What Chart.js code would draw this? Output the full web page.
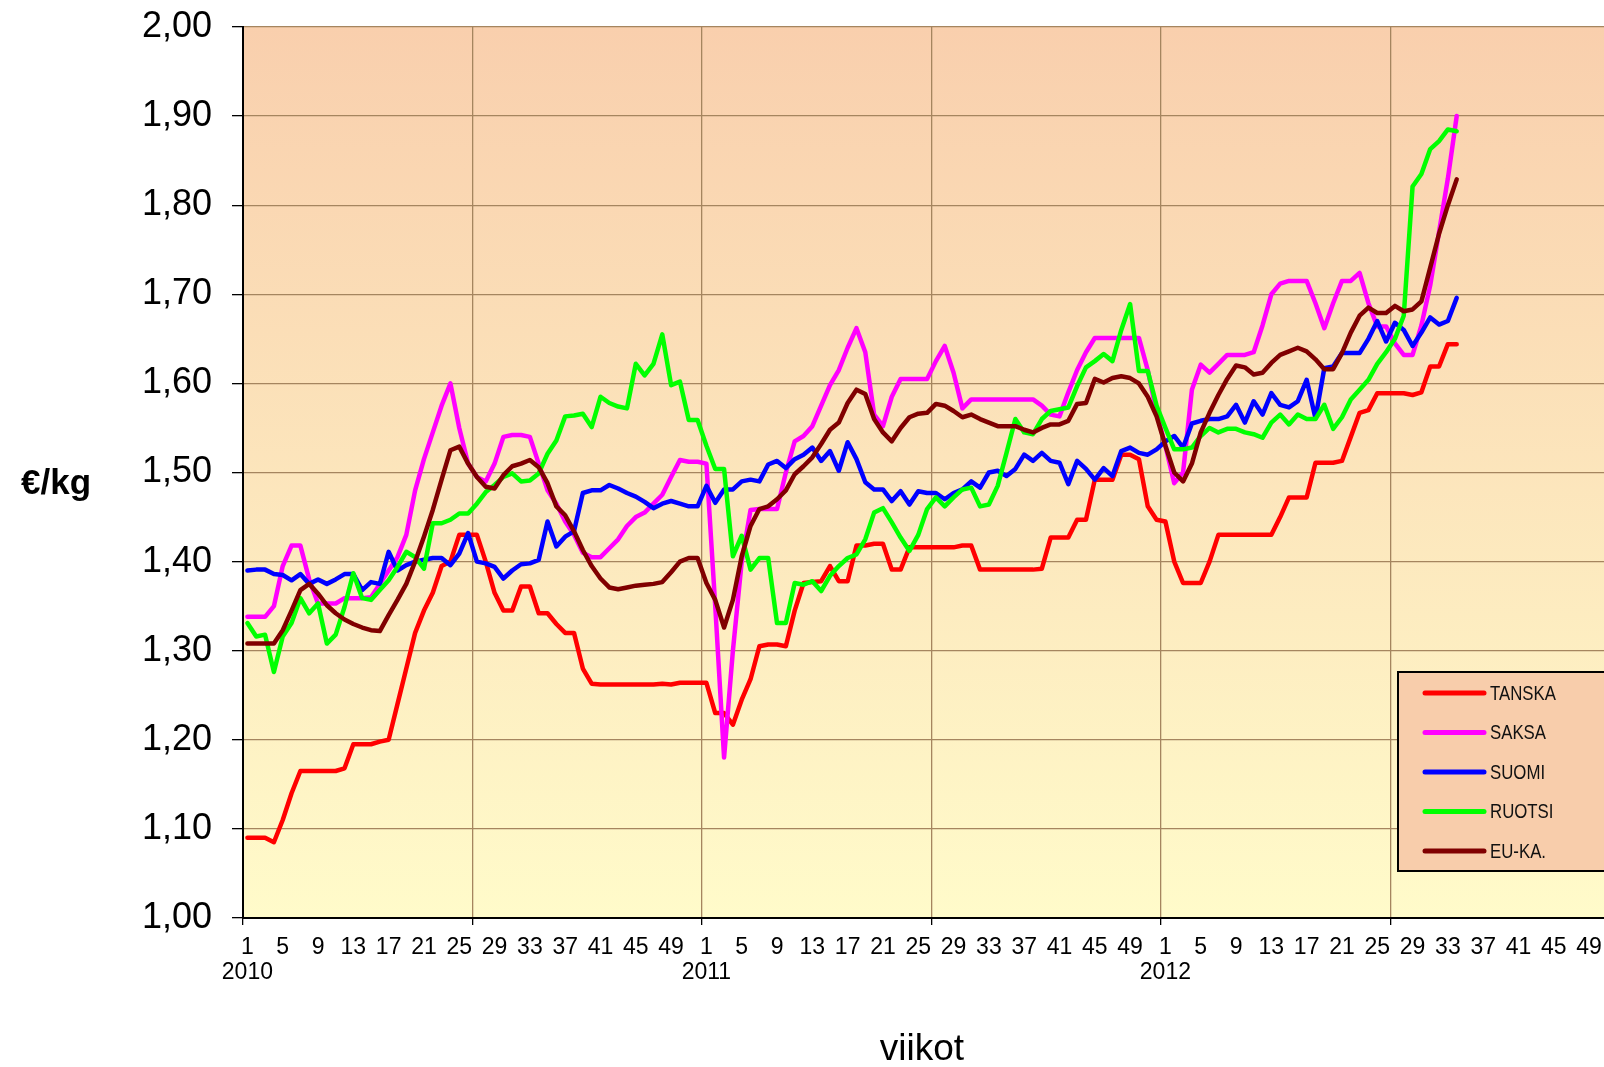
<!DOCTYPE html>
<html>
<head>
<meta charset="utf-8">
<script src="https://cdn.jsdelivr.net/npm/chart.js@4.4.0/dist/chart.umd.min.js"></script>
<style>
  html, body { margin: 0; padding: 0; background: #fff; overflow: hidden; width: 1604px; height: 1067px; }
  canvas { display: block; }
</style>
</head>
<body>
<canvas id="chart" width="1640" height="1067" style="width:1640px;height:1067px"></canvas>
<script>
// weekly prices €/kg, 2010 w1 .. 2012 w34
const years = ["2010", "2011", "2012"];
const weeksPerYear = 52;
const labelStep = 4;

const tanska2010 = [1.09,1.09,1.09,1.085,1.11,1.14,1.165,1.165,1.165,1.165,1.165,1.168,1.195,1.195,1.195,1.198,1.20,1.24,1.28,1.32,1.345,1.365,1.395,1.40,1.43,1.43,1.43,1.40,1.365,1.345,1.345,1.372,1.372,1.342,1.342,1.33,1.32,1.32,1.28,1.263,1.262,1.262,1.262,1.262,1.262,1.262,1.262,1.263,1.262,1.264,1.264,1.264];
const tanska2011 = [1.264,1.23,1.23,1.217,1.245,1.268,1.305,1.307,1.307,1.305,1.345,1.376,1.377,1.378,1.395,1.378,1.378,1.418,1.418,1.42,1.42,1.391,1.391,1.416,1.416,1.416,1.416,1.416,1.416,1.418,1.418,1.391,1.391,1.391,1.391,1.391,1.391,1.391,1.392,1.427,1.427,1.427,1.447,1.447,1.492,1.492,1.492,1.52,1.52,1.515,1.462,1.447];
const tanska2012 = [1.445,1.40,1.376,1.376,1.376,1.40,1.43,1.43,1.43,1.43,1.43,1.43,1.43,1.45,1.472,1.472,1.472,1.511,1.511,1.511,1.513,1.54,1.567,1.57,1.589,1.589,1.589,1.589,1.587,1.59,1.619,1.619,1.644,1.644];

const saksa2010 = [1.338,1.338,1.338,1.35,1.395,1.418,1.418,1.38,1.353,1.353,1.353,1.359,1.359,1.359,1.36,1.375,1.39,1.405,1.43,1.48,1.515,1.545,1.575,1.60,1.55,1.51,1.495,1.49,1.51,1.54,1.542,1.542,1.54,1.51,1.48,1.465,1.445,1.43,1.41,1.405,1.405,1.415,1.425,1.44,1.45,1.455,1.465,1.475,1.495,1.514,1.512,1.512];
const saksa2011 = [1.51,1.35,1.18,1.30,1.40,1.458,1.459,1.459,1.459,1.50,1.535,1.541,1.552,1.575,1.598,1.615,1.64,1.662,1.635,1.565,1.552,1.585,1.605,1.605,1.605,1.605,1.625,1.642,1.612,1.572,1.582,1.582,1.582,1.582,1.582,1.582,1.582,1.582,1.575,1.565,1.563,1.59,1.615,1.635,1.651,1.651,1.651,1.651,1.651,1.651,1.615,1.567];
const saksa2012 = [1.53,1.488,1.50,1.593,1.621,1.612,1.622,1.632,1.632,1.632,1.635,1.665,1.70,1.712,1.715,1.715,1.715,1.69,1.662,1.69,1.715,1.715,1.724,1.69,1.664,1.664,1.645,1.632,1.632,1.665,1.71,1.77,1.83,1.90];

const suomi2010 = [1.39,1.391,1.391,1.386,1.385,1.379,1.386,1.375,1.38,1.375,1.38,1.386,1.386,1.368,1.377,1.375,1.411,1.39,1.396,1.40,1.402,1.404,1.404,1.396,1.409,1.432,1.40,1.398,1.394,1.381,1.39,1.397,1.398,1.402,1.445,1.417,1.428,1.434,1.477,1.48,1.48,1.486,1.482,1.477,1.473,1.467,1.46,1.465,1.468,1.465,1.462,1.462];
const suomi2011 = [1.485,1.466,1.481,1.481,1.49,1.492,1.49,1.509,1.513,1.505,1.515,1.52,1.528,1.513,1.524,1.502,1.534,1.515,1.489,1.481,1.481,1.468,1.479,1.464,1.479,1.477,1.477,1.47,1.477,1.481,1.49,1.483,1.50,1.502,1.496,1.504,1.52,1.513,1.522,1.513,1.511,1.487,1.513,1.504,1.492,1.505,1.496,1.524,1.528,1.522,1.52,1.526];
const suomi2012 = [1.535,1.541,1.528,1.555,1.558,1.56,1.56,1.563,1.576,1.556,1.58,1.565,1.589,1.576,1.573,1.58,1.604,1.561,1.617,1.619,1.634,1.634,1.634,1.65,1.67,1.647,1.668,1.66,1.642,1.657,1.674,1.666,1.67,1.696];

const ruotsi2010 = [1.331,1.316,1.318,1.276,1.316,1.331,1.359,1.342,1.353,1.308,1.318,1.349,1.387,1.359,1.357,1.368,1.379,1.394,1.411,1.405,1.392,1.443,1.443,1.447,1.454,1.454,1.465,1.478,1.486,1.495,1.499,1.49,1.491,1.499,1.521,1.536,1.563,1.564,1.566,1.551,1.585,1.578,1.574,1.572,1.622,1.609,1.622,1.655,1.598,1.602,1.559,1.559];
const ruotsi2011 = [1.53,1.504,1.504,1.406,1.429,1.391,1.404,1.404,1.331,1.331,1.376,1.374,1.378,1.367,1.384,1.395,1.404,1.408,1.425,1.455,1.46,1.444,1.427,1.412,1.43,1.459,1.472,1.462,1.472,1.481,1.483,1.462,1.464,1.485,1.522,1.56,1.545,1.543,1.56,1.569,1.571,1.573,1.597,1.618,1.625,1.633,1.625,1.66,1.689,1.614,1.614,1.575];
const ruotsi2012 = [1.55,1.526,1.526,1.528,1.541,1.55,1.545,1.549,1.549,1.545,1.543,1.539,1.556,1.565,1.554,1.565,1.56,1.56,1.576,1.549,1.562,1.582,1.593,1.604,1.622,1.635,1.65,1.676,1.821,1.835,1.863,1.872,1.885,1.883];

const euka2010 = [1.308,1.308,1.308,1.308,1.323,1.345,1.368,1.375,1.364,1.351,1.342,1.335,1.33,1.326,1.323,1.322,1.34,1.357,1.375,1.40,1.428,1.458,1.492,1.525,1.529,1.51,1.495,1.484,1.482,1.497,1.507,1.51,1.514,1.506,1.488,1.462,1.452,1.434,1.413,1.395,1.381,1.371,1.369,1.371,1.373,1.374,1.375,1.377,1.388,1.40,1.404,1.404];
const euka2011 = [1.376,1.357,1.326,1.357,1.406,1.44,1.459,1.462,1.47,1.48,1.498,1.507,1.517,1.532,1.548,1.556,1.578,1.593,1.588,1.56,1.545,1.535,1.55,1.562,1.566,1.567,1.577,1.575,1.569,1.562,1.565,1.56,1.556,1.552,1.552,1.552,1.548,1.545,1.55,1.554,1.554,1.558,1.577,1.578,1.605,1.601,1.606,1.608,1.606,1.60,1.585,1.563];
const euka2012 = [1.53,1.50,1.49,1.51,1.545,1.567,1.587,1.605,1.62,1.618,1.61,1.612,1.623,1.632,1.636,1.64,1.636,1.627,1.616,1.616,1.634,1.657,1.676,1.685,1.679,1.679,1.687,1.681,1.683,1.692,1.73,1.768,1.80,1.829];

const seriesNames = ["TANSKA", "SAKSA", "SUOMI", "RUOTSI", "EU-KA."];

// categories: every week of the three years (axis runs to 2012 w52)
const categories = [];
years.forEach(y => { for (let w = 1; w <= weeksPerYear; w++) categories.push(w + "/" + y); });

const REG = "'Liberation Sans', Arial, sans-serif";
const GRID = "#a5855f";

// peach -> light yellow plot background
const plotBg = {
  id: "plotBg",
  beforeDraw(chart) {
    const { ctx, chartArea: a } = chart;
    const g = ctx.createLinearGradient(0, a.top, 0, a.bottom);
    g.addColorStop(0, "#f9cfad");
    g.addColorStop(1, "#fffbca");
    ctx.save();
    ctx.fillStyle = g;
    ctx.fillRect(a.left, a.top, a.right - a.left, a.bottom - a.top);
    ctx.restore();
  }
};

// boxed legend inside the plot + axis titles
const extras = {
  id: "extras",
  afterDraw(chart) {
    const ctx = chart.ctx;
    ctx.save();
    ctx.fillStyle = "#f8cdab";
    ctx.fillRect(1398, 672, 260, 199);
    ctx.strokeStyle = "#000";
    ctx.lineWidth = 2;
    ctx.strokeRect(1398, 672, 260, 199);
    chart.data.datasets.forEach((ds, i) => {
      const y = 693 + i * 39.5;
      ctx.strokeStyle = ds.borderColor;
      ctx.lineWidth = 5;
      ctx.lineCap = "round";
      ctx.beginPath();
      ctx.moveTo(1425, y);
      ctx.lineTo(1484, y);
      ctx.stroke();
      // narrow-looking label: squeeze horizontally
      ctx.save();
      ctx.translate(1490, y);
      ctx.scale(0.8, 1);
      ctx.font = "21px " + REG;
      ctx.textBaseline = "middle";
      ctx.textAlign = "left";
      ctx.fillStyle = "#111";
      ctx.fillText(ds.label, 0, 1);
      ctx.restore();
    });

    ctx.fillStyle = "#000";
    ctx.textAlign = "center";
    ctx.textBaseline = "middle";
    ctx.font = "bold 35px " + REG;
    ctx.fillText("€/kg", 56, 484);
    ctx.font = "37px " + REG;
    ctx.fillText("viikot", 922, 1050);
    ctx.restore();
  }
};

const common = { borderWidth: 4.5, pointRadius: 0, tension: 0, fill: false, borderJoinStyle: "round", borderCapStyle: "round" };

new Chart(document.getElementById("chart"), {
  type: "line",
  data: {
    labels: categories,
    datasets: [
      { ...common, label: seriesNames[0], data: tanska2010.concat(tanska2011, tanska2012), borderColor: "#ff0000", order: 5 },
      { ...common, label: seriesNames[1], data: saksa2010.concat(saksa2011, saksa2012), borderColor: "#ff00ff", order: 4 },
      { ...common, label: seriesNames[2], data: suomi2010.concat(suomi2011, suomi2012), borderColor: "#0000ff", order: 3 },
      { ...common, label: seriesNames[3], data: ruotsi2010.concat(ruotsi2011, ruotsi2012), borderColor: "#00ff00", order: 2 },
      { ...common, label: seriesNames[4], data: euka2010.concat(euka2011, euka2012), borderColor: "#800000", order: 1 }
    ]
  },
  options: {
    responsive: false,
    devicePixelRatio: 1,
    animation: false,
    layout: { padding: { left: 0, top: 27, right: 20, bottom: 0 } },
    plugins: { legend: { display: false }, tooltip: { enabled: false } },
    scales: {
      x: {
        offset: true,
        ticks: {
          autoSkip: false, maxRotation: 0, minRotation: 0, padding: 10, color: "#000",
          font: { family: REG, size: 23, lineHeight: 1.1 },
          callback(v, i) {
            const w = i % weeksPerYear + 1;
            if ((w - 1) % labelStep) return "";
            return w === 1 ? [String(w), years[Math.floor(i / weeksPerYear)]] : String(w);
          }
        },
        grid: {
          offset: true,
          lineWidth: 1.3,
          color: c => (c.index > 0 && c.index % 26 === 0) ? GRID : "rgba(0,0,0,0)",
          tickColor: c => (c.index % 26 === 0) ? "#000" : "rgba(0,0,0,0)",
          tickLength: 7
        },
        border: { color: "#000", width: 2 },
        afterFit(s) { s.height = 149; s.paddingLeft = 0; s.paddingRight = 0; }
      },
      y: {
        min: 1, max: 2,
        ticks: {
          stepSize: 0.1, padding: 20, color: "#000",
          font: { family: REG, size: 36 },
          callback: v => v.toFixed(2).replace(".", ",")
        },
        grid: { color: GRID, lineWidth: 1.3, tickColor: "#000", tickLength: 11 },
        border: { color: "#000", width: 2 },
        afterFit(s) { s.width = 243; s.paddingTop = 0; s.paddingBottom = 0; }
      }
    }
  },
  plugins: [plotBg, extras]
});
</script>
</body>
</html>
